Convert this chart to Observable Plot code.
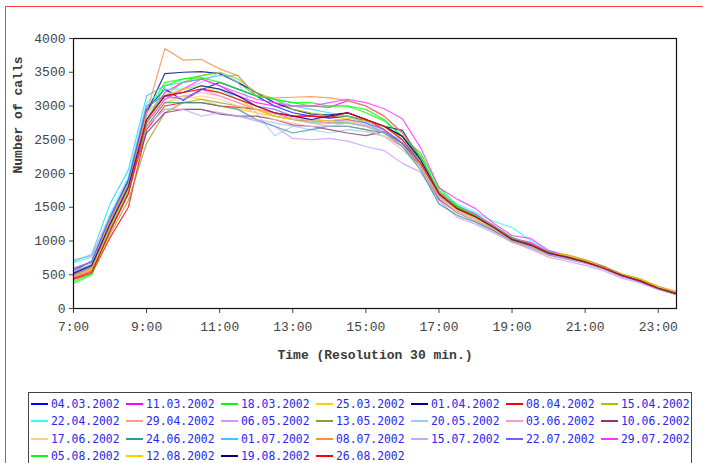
<!DOCTYPE html>
<html>
<head>
<meta charset="utf-8">
<script src="https://cdn.jsdelivr.net/npm/d3@7"></script>
<script src="https://cdn.jsdelivr.net/npm/@observablehq/plot@0.6"></script>
<style>
  html, body { margin: 0; padding: 0; background: #fff; width: 703px; height: 463px; overflow: hidden; }
  #page { position: relative; width: 703px; height: 463px; }
  #border { position: absolute; left: 5px; top: 6px; width: 720px; height: 480px;
            border-left: 1px solid #ff3b3b; border-top: 1px solid #ff3b3b; }
  #chart { position: absolute; left: 0; top: 0; }
  #legend { position: absolute; left: 28px; top: 392px; width: 664px; height: 90px;
            border: 1px solid #444; background: #fff; box-sizing: border-box;
            padding: 2px 0 0 2px; display: grid; grid-template-columns: repeat(7, 95px);
            grid-auto-rows: 17.5px; }
  .item { display: flex; align-items: center; white-space: nowrap; }
  .swatch { width: 17px; height: 2px; margin-right: 3px; flex: none; }
  .label { font-family: "DejaVu Sans Mono", monospace; font-size: 11.4px; color: #2828f0; }
</style>
</head>
<body>
<div id="page">
  <div id="border"></div>
  <div id="chart"></div>
  <div id="legend"></div>
</div>
<script>
// Half-hourly sampling times of the call counts
const times = ["7:00","7:30","8:00","8:30","9:00","9:30","10:00","10:30","11:00","11:30",
  "12:00","12:30","13:00","13:30","14:00","14:30","15:00","15:30","16:00","16:30",
  "17:00","17:30","18:00","18:30","19:00","19:30","20:00","20:30","21:00","21:30",
  "22:00","22:30","23:00","23:30"];

const xTickLabels = ["7:00","9:00","11:00","13:00","15:00","17:00","19:00","21:00","23:00"];
const yTickValues = [0, 500, 1000, 1500, 2000, 2500, 3000, 3500, 4000];

// One Monday per series
const dates = ["04.03.2002","11.03.2002","18.03.2002","25.03.2002","01.04.2002","08.04.2002","15.04.2002",
  "22.04.2002","29.04.2002","06.05.2002","13.05.2002","20.05.2002","03.06.2002","10.06.2002",
  "17.06.2002","24.06.2002","01.07.2002","08.07.2002","15.07.2002","22.07.2002","29.07.2002",
  "05.08.2002","12.08.2002","19.08.2002","26.08.2002"];

const palette = ["#0000ff","#ff00ff","#00ff00","#ffcc00","#000080","#ff0000","#99cc00",
  "#33ffff","#ff9999","#cc99ff","#999933","#99ccff","#ff99cc","#993366",
  "#ffcc99","#339999","#33ccff","#ff8c40","#b3b3ff","#6666ff","#ff33ff",
  "#00ff00","#ffcc00","#000080","#ff0000"];

// Number of calls per half hour, one array per Monday
const calls0403 = [560,700,1350,1900,2950,3250,3080,3240,3350,3250,3150,3000,2900,2850,2820,2850,2780,2700,2550,2200,1700,1500,1380,1220,1050,960,830,760,700,620,500,430,310,230];
const calls1103 = [480,600,1200,1750,2800,3200,3350,3400,3300,3150,3050,3000,3000,3000,2980,3080,3000,2850,2600,2250,1720,1520,1400,1230,1040,980,840,770,700,610,500,420,300,220];
const calls1803 = [370,500,1200,1850,2900,3350,3400,3450,3500,3350,3150,3100,3050,3050,3000,3000,2950,2800,2550,2300,1800,1520,1380,1200,1030,950,830,770,700,610,490,420,300,230];
const calls2503 = [450,560,1150,1700,2700,3050,3150,3100,3000,2950,2900,2850,2800,2750,2750,2780,2700,2600,2400,2100,1650,1450,1330,1180,1020,930,810,760,690,600,490,430,320,240];
const calls0104 = [600,680,1300,1900,2900,3480,3500,3510,3480,3350,3200,3050,2950,2880,2870,2900,2800,2700,2640,2200,1650,1470,1350,1190,1020,940,820,750,690,600,480,400,290,210];
const calls0804 = [430,520,1050,1500,2650,3000,3050,3050,3000,2980,2950,2900,2850,2850,2850,2900,2800,2650,2450,2150,1680,1470,1360,1200,1020,950,820,760,690,600,490,410,300,230];
const calls1504 = [500,600,1250,1800,2800,3150,3350,3450,3500,3400,3200,3100,2950,2900,2850,2850,2800,2700,2500,2200,1700,1480,1380,1220,1050,950,840,800,720,620,510,440,320,240];
const calls2204 = [680,760,1400,1950,3050,3250,3250,3300,3250,3100,3000,2900,2800,2750,2750,2750,2700,2600,2450,2200,1750,1550,1420,1290,1200,1010,860,780,700,610,490,420,300,230];
const calls2904 = [720,780,1350,1850,2900,3150,3200,3250,3150,3050,2950,2900,2800,2750,2700,2700,2650,2550,2400,2100,1650,1450,1330,1180,1000,920,800,740,680,590,480,410,300,220];
const calls0605 = [520,620,1200,1700,2700,2950,2950,2950,2900,2850,2780,2700,2520,2500,2520,2480,2400,2340,2150,2020,1600,1350,1250,1120,980,880,760,700,640,560,450,380,280,200];
const calls1305 = [480,580,1100,1600,2450,2900,3050,3100,3050,3000,2950,2850,2800,2780,2750,2750,2700,2600,2400,2150,1650,1470,1350,1200,1030,940,830,790,720,630,510,440,330,250];
const calls2005 = [560,650,1250,1800,2850,3150,3250,3350,3500,3350,2900,2560,2700,2650,2600,2650,2620,2550,2350,2100,1650,1450,1340,1190,1010,930,810,750,690,600,490,410,300,220];
const calls0306 = [500,600,1200,1750,2750,3100,3150,3200,3150,3050,2950,2880,2820,2780,2750,2800,2720,2620,2420,2150,1700,1480,1350,1200,1030,950,830,760,690,600,480,410,300,220];
const calls1006 = [540,640,1250,1800,2600,2900,2950,2950,2880,2850,2850,2800,2720,2700,2650,2600,2560,2620,2450,2100,1620,1420,1300,1160,990,900,790,730,670,590,480,400,290,210];
const calls1706 = [600,680,1300,1800,2800,3050,3100,3150,3100,3000,2900,2800,2750,2700,2700,2700,2650,2550,2350,2100,1650,1430,1300,1150,980,900,780,730,670,580,470,400,290,210];
const calls2406 = [500,620,1200,1750,2700,3050,3050,3050,3000,2950,2800,2700,2600,2650,2700,2700,2650,2600,2400,2050,1550,1380,1280,1150,1000,920,800,740,680,590,480,400,290,210];
const calls0107 = [700,800,1550,2050,3150,3300,3350,3400,3450,3450,3150,3100,3000,2950,2900,2850,2750,2600,2500,2200,1700,1500,1380,1220,1050,960,840,770,700,610,490,420,300,230];
const calls0807 = [520,640,1300,1850,2900,3850,3680,3690,3550,3450,3150,3120,3130,3140,3120,3080,3000,2850,2600,2250,1720,1500,1370,1210,1040,950,830,770,700,610,500,420,300,220];
const calls1507 = [550,650,1250,1800,2700,2950,2950,2850,2900,2850,2800,2750,2700,2700,2700,2750,2700,2600,2400,2150,1650,1450,1330,1170,1000,910,800,740,670,590,470,400,290,210];
const calls2207 = [580,700,1350,1900,3000,3150,3100,3250,3200,3100,3000,2950,2850,2800,2780,2800,2750,2650,2450,2150,1680,1470,1360,1200,1030,940,820,760,690,600,490,410,300,220];
const calls2907 = [460,560,1150,1700,2750,3100,3250,3400,3300,3200,3100,3050,3000,3000,3050,3100,3050,2960,2810,2380,1790,1620,1480,1260,1080,1040,860,780,700,620,500,420,310,230];
const calls0508 = [400,520,1150,1750,2750,3300,3400,3420,3350,3250,3150,3100,3050,3000,3000,3000,2900,2780,2550,2250,1750,1500,1370,1210,1040,950,830,770,700,610,500,420,300,220];
const calls1208 = [480,580,1200,1750,2800,3150,3250,3300,3200,3100,2950,2850,2800,2800,2780,2820,2780,2700,2500,2150,1680,1460,1340,1190,1020,930,820,790,710,610,500,440,320,240];
const calls1908 = [520,640,1250,1800,2800,3150,3200,3300,3250,3150,3000,2900,2850,2800,2850,2900,2800,2700,2550,2200,1700,1480,1360,1200,1020,940,820,760,690,600,490,410,300,220];
const calls2608 = [440,540,1150,1700,2800,3150,3200,3250,3200,3100,3000,2900,2850,2850,2830,2900,2800,2700,2500,2150,1700,1480,1360,1200,1030,950,830,760,690,600,490,410,300,220];

const series = [calls0403, calls1103, calls1803, calls2503, calls0104, calls0804, calls1504,
  calls2204, calls2904, calls0605, calls1305, calls2005, calls0306, calls1006,
  calls1706, calls2406, calls0107, calls0807, calls1507, calls2207, calls2907,
  calls0508, calls1208, calls1908, calls2608];

// "13:30" -> 13.5
const toHours = s => { const [h, m] = s.split(":").map(Number); return h + m / 60; };

const rows = [];
series.forEach((vals, i) => {
  vals.forEach((v, j) => rows.push({date: dates[i], t: toHours(times[j]), calls: v}));
});

const axisFont = "'Liberation Mono', 'Courier New', monospace";

const chart = Plot.plot({
  width: 703,
  height: 380,
  marginLeft: 73,
  marginRight: 27,
  marginTop: 38,
  marginBottom: 72,
  style: {fontFamily: axisFont, fontSize: "13px", color: "#444", background: "transparent"},
  x: {
    domain: [7, 23.5],
    ticks: xTickLabels.map(toHours),
    tickFormat: h => xTickLabels.find(s => toHours(s) === h),
    tickSize: 5,
    tickPadding: 8,
    label: null
  },
  y: {
    domain: [0, 4000],
    ticks: yTickValues,
    tickFormat: d => String(d),
    tickSize: 4,
    tickPadding: 4,
    label: null
  },
  color: {domain: dates, range: palette},
  marks: [
    Plot.line(rows, {x: "t", y: "calls", z: "date", stroke: "date", strokeWidth: 1.2, strokeOpacity: 0.8}),
    Plot.frame({stroke: "#111", strokeWidth: 1.2}),
    Plot.text(["Number of calls"], {frameAnchor: "left", dx: -56, rotate: -90,
      fontFamily: axisFont, fontSize: 13, fontWeight: "bold", fill: "#3a3a3a"}),
    Plot.text(["Time (Resolution 30 min.)"], {frameAnchor: "bottom", dy: 50,
      fontFamily: axisFont, fontSize: 13, fontWeight: "bold", fill: "#3a3a3a"})
  ]
});
document.getElementById("chart").append(chart);

// Legend below the chart: short line sample plus date
const legend = d3.select("#legend");
dates.forEach((d, i) => {
  const item = legend.append("div").attr("class", "item");
  item.append("span").attr("class", "swatch").style("background", palette[i]);
  item.append("span").attr("class", "label").text(d);
});
</script>
</body>
</html>
